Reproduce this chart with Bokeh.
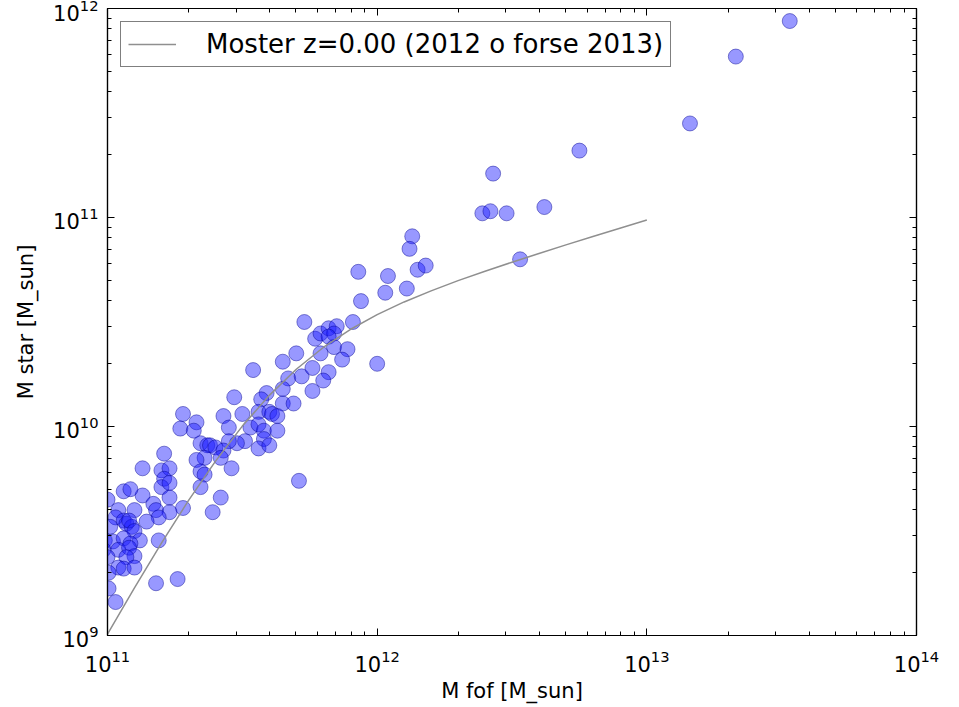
import numpy as np
from bokeh.plotting import figure
from bokeh.models import LogAxis, FixedTicker, Legend, LegendItem
from bokeh.embed import file_html
from bokeh.resources import INLINE

# FOF halo mass and stellar mass per group, log10 [M_sun]
log_mfof = [
    13.53, 13.33, 13.16, 12.75, 12.62, 12.43, 12.39, 12.42, 12.48, 12.53,
    12.13, 12.12, 12.15, 12.18, 11.93, 12.04, 12.03, 12.11, 11.94, 11.73,
    11.91, 11.77, 11.79, 11.82, 11.85, 11.84, 11.82, 11.84, 11.89, 11.87,
    11.79, 11.70, 11.65, 11.54, 12.00, 11.67, 11.72, 11.76, 11.82, 11.80,
    11.65, 11.76, 11.59, 11.57, 11.47, 11.65, 11.69, 11.50, 11.56, 11.60,
    11.61, 11.63, 11.43, 11.53, 11.56, 11.58, 11.63, 11.45, 11.58, 11.51,
    11.48, 11.56, 11.60, 11.71, 11.28, 11.33, 11.27, 11.32, 11.345, 11.37,
    11.38, 11.40, 11.45, 11.43, 11.36, 11.33, 11.42, 11.46, 11.345, 11.36,
    11.345, 11.42, 11.39, 11.28, 11.21, 11.13, 11.20, 11.23, 11.21, 11.20,
    11.23, 11.13, 11.23, 11.17, 11.18, 11.23, 11.19, 11.145, 11.00, 11.04,
    11.03, 11.10, 11.06, 11.07, 11.09, 11.08, 11.01, 11.06, 11.085, 11.10,
    11.12, 10.99, 11.02, 11.06, 11.085, 11.04, 11.08, 11.19, 10.985, 11.10,
    11.07, 11.00, 11.04, 11.06, 11.10, 11.004, 11.18, 11.26, 11.004, 11.03,
]
log_mstar = [
    11.94, 11.77, 11.45, 11.32, 11.05, 11.21, 11.02, 11.03, 11.02, 10.80,
    10.91, 10.85, 10.75, 10.77, 10.74, 10.72, 10.64, 10.66, 10.60, 10.50,
    10.50, 10.42, 10.445, 10.47, 10.48, 10.445, 10.43, 10.38, 10.37, 10.32,
    10.35, 10.35, 10.31, 10.27, 10.30, 10.23, 10.24, 10.28, 10.26, 10.22,
    10.18, 10.17, 10.16, 10.13, 10.14, 10.11, 10.11, 10.06, 10.07, 10.07,
    10.06, 10.05, 10.05, 9.995, 10.01, 9.98, 9.98, 9.995, 9.94, 9.93,
    9.92, 9.895, 9.91, 9.74, 10.06, 10.02, 9.99, 9.98, 9.92, 9.91,
    9.91, 9.90, 9.93, 9.885, 9.85, 9.84, 9.85, 9.80, 9.785, 9.77,
    9.71, 9.66, 9.59, 9.61, 9.87, 9.80, 9.79, 9.80, 9.75, 9.71,
    9.73, 9.67, 9.66, 9.63, 9.60, 9.59, 9.565, 9.545, 9.65, 9.60,
    9.565, 9.60, 9.55, 9.535, 9.52, 9.55, 9.52, 9.69, 9.70, 9.50,
    9.455, 9.455, 9.45, 9.465, 9.44, 9.41, 9.42, 9.455, 9.41, 9.38,
    9.375, 9.375, 9.325, 9.32, 9.325, 9.30, 9.25, 9.27, 9.225, 9.16,
]

# Moster et al. stellar-to-halo mass relation at z=0, log10 [M_sun]
moster_log_mhalo = [11.0, 11.1, 11.2, 11.3, 11.4, 11.5, 11.6, 11.7, 11.8, 11.9, 12.0,
                    12.1, 12.2, 12.3, 12.4, 12.5, 12.6, 12.7, 12.8, 12.9, 13.0]
moster_log_mstar = [9.006, 9.228, 9.442, 9.645, 9.833, 10.002, 10.149, 10.274, 10.378,
                    10.464, 10.535, 10.596, 10.649, 10.698, 10.743, 10.786, 10.828,
                    10.869, 10.909, 10.949, 10.988]

legend_label = "Moster z=0.00 (2012 o forse 2013)"

x_major = [1e11, 1e12, 1e13, 1e14]
y_major = [1e9, 1e10, 1e11, 1e12]

def minor_ticks(majors):
    return [m * k for m in majors[:-1] for k in range(2, 10)]

FONT = "DejaVu Sans"

p = figure(
    width=959, height=707,
    x_axis_type="log", y_axis_type="log",
    x_range=(1e11, 1e14), y_range=(1e9, 1e12),
    output_backend="svg", toolbar_location=None,
    min_border_left=107, min_border_right=43,
    min_border_top=8, min_border_bottom=72,
    background_fill_color="white", border_fill_color="white",
)
p.grid.visible = False
p.outline_line_color = "black"
p.outline_line_width = 1.2

mfof = 10 ** np.array(log_mfof)
mstar = 10 ** np.array(log_mstar)
p.scatter(mfof, mstar, size=15, marker="circle",
          fill_color="#1a1aff", fill_alpha=0.45,
          line_color="#000090", line_alpha=0.45, line_width=1)

curve = p.line(10 ** np.array(moster_log_mhalo), 10 ** np.array(moster_log_mstar),
               line_color="#8f8f8f", line_width=1.5)

x_ticker = FixedTicker(ticks=x_major, minor_ticks=minor_ticks(x_major))
y_ticker = FixedTicker(ticks=y_major, minor_ticks=minor_ticks(y_major))

def style_axis(ax, show_labels):
    ax.axis_line_color = "black"
    ax.axis_line_width = 1.2
    ax.major_tick_in = 7
    ax.major_tick_out = 0
    ax.minor_tick_in = 4
    ax.minor_tick_out = 0
    ax.major_tick_line_color = "black"
    ax.minor_tick_line_color = "black"
    if show_labels:
        ax.major_label_text_font = FONT
        ax.major_label_text_font_size = "21px"
        ax.major_label_text_color = "black"
        ax.axis_label_text_font = FONT
        ax.axis_label_text_font_size = "21px"
        ax.axis_label_text_font_style = "normal"
        ax.axis_label_text_color = "black"
    else:
        ax.major_label_text_font_size = "1px"
        ax.major_label_text_alpha = 0
        ax.major_label_standoff = 0
        ax.axis_label_standoff = 0

xa = p.xaxis[0]
xa.ticker = x_ticker
xa.axis_label = "M fof [M_sun]"
xa.major_label_standoff = 14
xa.axis_label_standoff = 4
style_axis(xa, True)

ya = p.yaxis[0]
ya.ticker = y_ticker
ya.axis_label = "M star [M_sun]"
ya.major_label_standoff = 9
ya.axis_label_standoff = 12
style_axis(ya, True)

top = LogAxis(ticker=x_ticker)
style_axis(top, False)
p.add_layout(top, "above")

right = LogAxis(ticker=y_ticker)
style_axis(right, False)
p.add_layout(right, "right")

legend = Legend(items=[LegendItem(label=legend_label, renderers=[curve])],
                location="top_left")
legend.margin = 13
legend.padding = 7
legend.glyph_width = 48
legend.label_standoff = 30
legend.label_text_font = FONT
legend.label_text_font_size = "26px"
legend.label_text_color = "black"
legend.border_line_color = "black"
legend.border_line_width = 1.5
legend.background_fill_alpha = 1
p.add_layout(legend, "center")

open("out.html", "w").write(file_html(p, INLINE))
